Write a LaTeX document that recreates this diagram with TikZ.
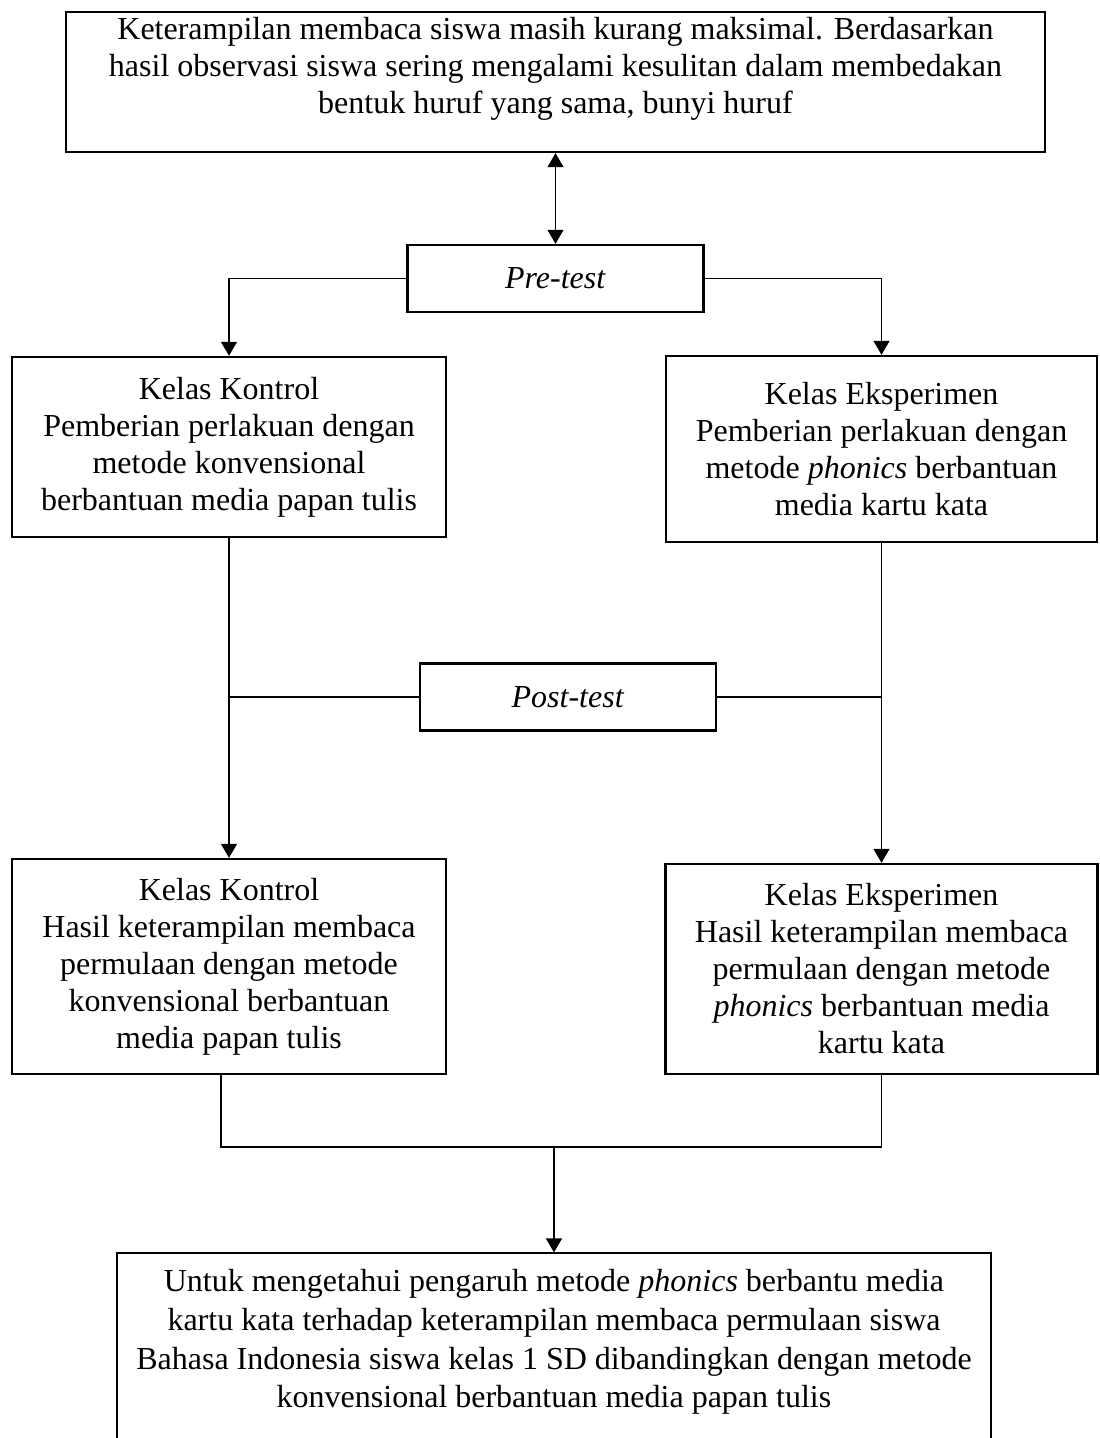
\documentclass[tikz,border=0pt]{standalone}
\usepackage{fontspec}
\setmainfont{Liberation Serif}
\usetikzlibrary{arrows.meta}

\tikzstyle{box}=[draw,black,rectangle,line width=1.2pt,inner sep=0pt,align=center]
\tikzstyle{txt}=[inner sep=0pt,align=center]
\tikzstyle{link}=[line width=0.6pt]
\tikzstyle{flow}=[line width=0.6pt,-{Triangle[width=8pt,length=7pt]}]
\tikzstyle{both}=[line width=0.6pt,{Triangle[width=8pt,length=7pt]}-{Triangle[width=8pt,length=7pt]}]

\begin{document}
\begin{tikzpicture}[x=0.5pt,y=-0.5pt,font=\fontsize{16}{18.5}\selectfont]
    \useasboundingbox (0,0) rectangle (1099,1438);
    \clip (0,0) rectangle (1099,1438);

    \node (masalah)[box,minimum width=489.5pt,minimum height=70pt] at (555.5,82) {};
    \node (masalahtxt)[txt] at (555.5,69) {Keterampilan membaca siswa masih kurang maksimal. Berdasarkan\\hasil observasi siswa sering mengalami kesulitan dalam membedakan\\bentuk huruf yang sama, bunyi huruf};

    \node (pre)[box,minimum width=148pt,minimum height=33.5pt] at (555.5,278.5) {\textit{Pre-test}};

    \node (kontrol)[box,minimum width=217pt,minimum height=90pt] at (229,447) {Kelas Kontrol\\Pemberian perlakuan dengan\\metode konvensional\\berbantuan media papan tulis};
    \node (eksperimen)[box,minimum width=215.5pt,minimum height=93pt] at (881.5,449) {Kelas Eksperimen\\Pemberian perlakuan dengan\\metode \textit{phonics} berbantuan\\media kartu kata};

    \node (post)[box,minimum width=148pt,minimum height=33.5pt] at (568,697) {\textit{Post-test}};

    \node (hasilkontrol)[box,minimum width=217pt,minimum height=107.5pt] at (229,966.5) {Kelas Kontrol\\Hasil keterampilan membaca\\permulaan dengan metode\\konvensional berbantuan\\media papan tulis};
    \node (hasileksperimen)[box,minimum width=216pt,minimum height=105pt] at (881.5,969) {Kelas Eksperimen\\Hasil keterampilan membaca\\permulaan dengan metode\\\textit{phonics} berbantuan media\\kartu kata};

    \node (tujuan)[box,line width=0.6pt,minimum width=437pt,minimum height=108.5pt] at (554,1361.5) {};
    \node (tujuantxt)[txt,font=\fontsize{16}{19.3}\selectfont] at (554,1342) {Untuk mengetahui pengaruh metode \textit{phonics} berbantu media\\kartu kata terhadap keterampilan membaca permulaan siswa\\Bahasa Indonesia siswa kelas 1 SD dibandingkan dengan metode\\konvensional berbantuan media papan tulis};

    \draw[both] (masalah) -- (pre);
    \draw[flow] (pre.west) -| (kontrol.north);
    \draw[flow] (pre.east) -| (eksperimen.north);

    \draw[flow] (kontrol) -- (hasilkontrol);
    \draw[flow] (eksperimen) -- (hasileksperimen);
    \draw[link] (post.west) -- (post.west -| kontrol.south);
    \draw[link] (post.east) -- (post.east -| eksperimen.south);

    %\draw [dashed] (221,1074) -- (221,1147) -- (881,1147);
    \coordinate (gabung) at (554,1147);
    \draw[link] ([xshift=-4pt]hasilkontrol.south) |- (gabung) -| (hasileksperimen.south);
    \draw[flow] (gabung) -- (tujuan);
\end{tikzpicture}
\end{document}
